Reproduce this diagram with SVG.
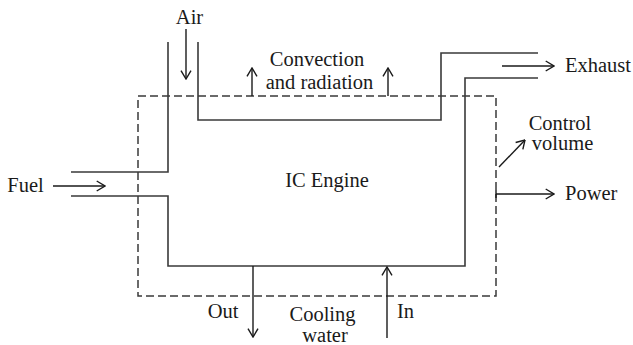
<svg xmlns="http://www.w3.org/2000/svg" width="633" height="345" viewBox="0 0 633 345">
<style>
.t{font-family:"Liberation Serif","Times New Roman",serif;font-size:20.5px;fill:#1a1a1a}
.m{text-anchor:middle}
.wall{fill:none;stroke:#3a3a3a;stroke-width:1.6}
.dash{fill:none;stroke:#3a3a3a;stroke-width:1.5;stroke-dasharray:8 4}
.arr{fill:none;stroke:#1a1a1a;stroke-width:1.4;marker-end:url(#ah)}
</style>
<defs>
<marker id="ah" viewBox="0 0 10 12" markerUnits="userSpaceOnUse" markerWidth="10" markerHeight="12" refX="9.3" refY="6" orient="auto">
<path d="M1,1 L9.3,6 L1,11" fill="none" stroke="#1a1a1a" stroke-width="1.4"/>
</marker>
</defs>
<rect width="633" height="345" fill="#fff"/>
<g id="control-volume">
<rect class="dash" x="138" y="96" width="358" height="200"/>
</g>
<g id="engine">
<path class="wall" d="M168,42 V172 H71 M71,196 H168 V266 H465 V78 H538"/>
<path class="wall" d="M198,42 V120 H441 V53 H538"/>
<text class="t m" x="327" y="187">IC Engine</text>
</g>
<g id="labels">
<text class="t m" x="189.5" y="24">Air</text>
<text class="t m" x="317" y="66">Convection</text>
<text class="t m" x="319.5" y="89">and radiation</text>
<text class="t" x="565" y="72">Exhaust</text>
<text class="t m" x="560" y="130">Control</text>
<text class="t m" x="562.5" y="150">volume</text>
<text class="t" x="565" y="200">Power</text>
<text class="t m" x="25.5" y="192">Fuel</text>
<text class="t m" x="223" y="318">Out</text>
<text class="t m" x="322.5" y="321">Cooling</text>
<text class="t m" x="325" y="342">water</text>
<text class="t m" x="405.5" y="318">In</text>
</g>
<g id="connectors">
<line class="arr" x1="186" y1="29" x2="186" y2="79"/>
<line class="arr" x1="252" y1="96" x2="252" y2="68"/>
<line class="arr" x1="388" y1="96" x2="388" y2="68"/>
<line class="arr" x1="502" y1="66" x2="554" y2="66"/>
<line class="arr" x1="499" y1="167" x2="525" y2="140"/>
<line class="arr" x1="496" y1="194" x2="554" y2="194"/>
<line x1="496" y1="190" x2="496" y2="198" stroke="#1a1a1a" stroke-width="1.4"/>
<line class="arr" x1="53" y1="186" x2="105" y2="186"/>
<line class="arr" x1="253" y1="266" x2="253" y2="337"/>
<line class="arr" x1="387" y1="338" x2="387" y2="267"/>
</g>
</svg>
